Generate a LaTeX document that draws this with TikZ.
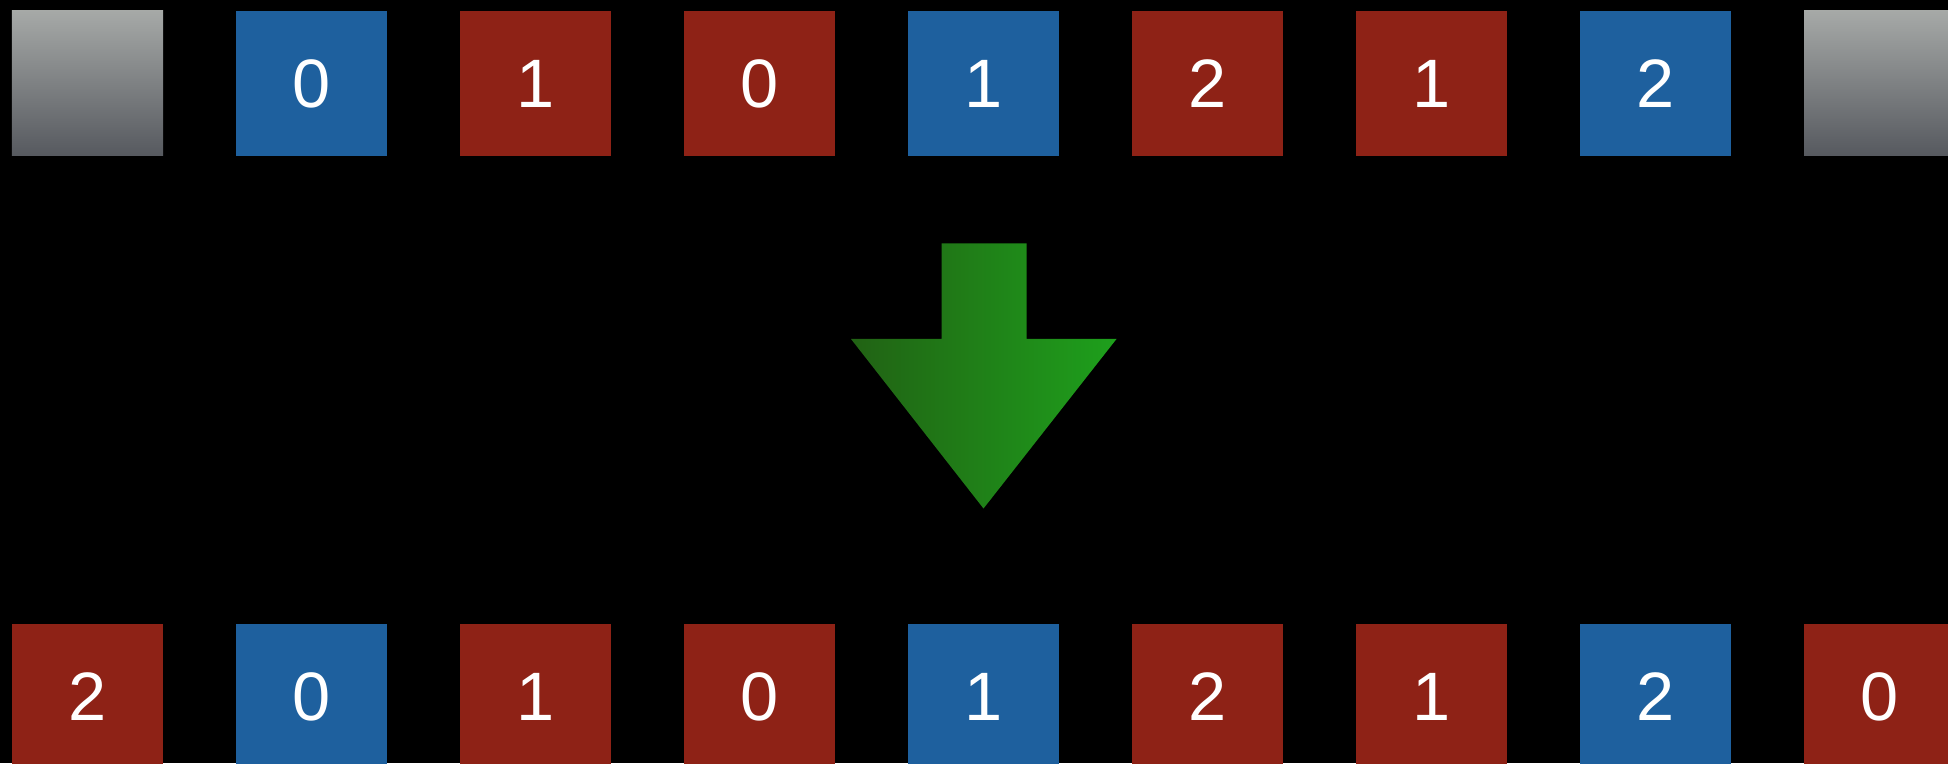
\documentclass[tikz,border=0pt]{standalone}
\usepackage{fontspec}
\setmainfont{Liberation Sans}
\usetikzlibrary{positioning}

\definecolor{cellblue}{RGB}{30,96,158}
\definecolor{cellred}{RGB}{142,34,22}
\definecolor{graytop}{RGB}{166,169,167}
\definecolor{graybot}{RGB}{86,89,95}
\definecolor{arrowdark}{RGB}{33,98,20}
\definecolor{arrowlight}{RGB}{30,160,28}

\tikzset{
  cell/.style={rectangle, minimum width=3.02cm, minimum height=2.9cm, inner sep=0pt,
    outer sep=0pt, text=white, font=\fontsize{39}{39}\selectfont},
  bluecell/.style={cell, fill=cellblue},
  redcell/.style={cell, fill=cellred},
  graycell/.style={cell, top color=graytop, bottom color=graybot}
}

\begin{document}
\begin{tikzpicture}
\clip (0,0) rectangle (38.96,15.26);
\fill[black] (0,0) rectangle (38.96,15.26);
% top row
\node[graycell] (t0) at (1.75,13.59) {};
\node[bluecell, right=1.46cm of t0] (t1) {0};
\node[redcell, right=1.46cm of t1] (t2) {1};
\node[redcell, right=1.46cm of t2] (t3) {0};
\node[bluecell, right=1.46cm of t3] (t4) {1};
\node[redcell, right=1.46cm of t4] (t5) {2};
\node[redcell, right=1.46cm of t5] (t6) {1};
\node[bluecell, right=1.46cm of t6] (t7) {2};
\node[graycell, right=1.46cm of t7] (t8) {};
% bottom row
\node[redcell] (b0) at (1.75,1.33) {2};
\node[bluecell, right=1.46cm of b0] (b1) {0};
\node[redcell, right=1.46cm of b1] (b2) {1};
\node[redcell, right=1.46cm of b2] (b3) {0};
\node[bluecell, right=1.46cm of b3] (b4) {1};
\node[redcell, right=1.46cm of b4] (b5) {2};
\node[redcell, right=1.46cm of b5] (b6) {1};
\node[bluecell, right=1.46cm of b6] (b7) {2};
\node[redcell, right=1.46cm of b7] (b8) {0};
% arrow
\shade[left color=arrowdark, right color=arrowlight]
  (18.83,10.39) -- (20.53,10.39) -- (20.53,8.48) -- (22.33,8.48)
  -- (19.67,5.09) -- (17.02,8.48) -- (18.83,8.48) -- cycle;
\end{tikzpicture}
\end{document}
